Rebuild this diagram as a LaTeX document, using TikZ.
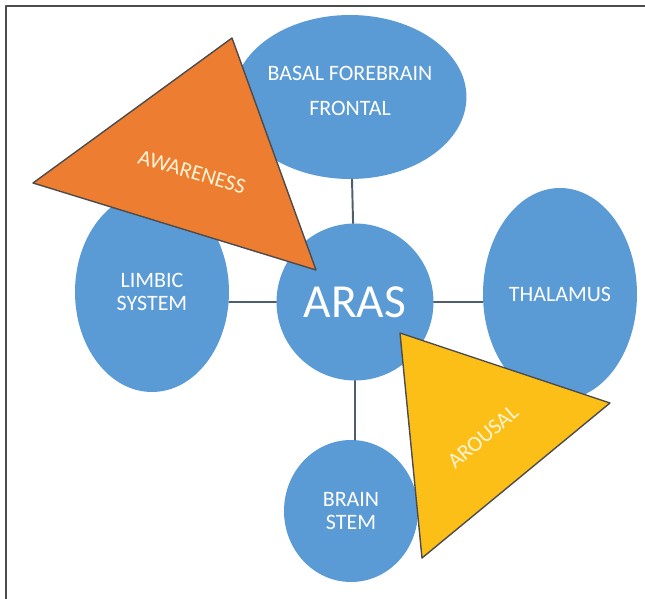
\documentclass[tikz,border=0pt]{standalone}
\usepackage{fontspec}
\setmainfont{Carlito}
\usetikzlibrary{shapes.geometric}

\definecolor{blobblue}{HTML}{5B9BD5}
\definecolor{awareorange}{HTML}{ED7D31}
\definecolor{arouseyellow}{HTML}{FBBF17}
\definecolor{linkgray}{HTML}{4E5E6E}
\definecolor{tritext}{HTML}{FFF4D6}

\begin{document}
\begin{tikzpicture}[line cap=round,line join=round,
    blob/.style={ellipse,fill=blobblue,inner sep=0pt,text=white,align=center,
      font=\fontsize{12.5}{13}\selectfont},
    link/.style={line width=1.1pt,draw=linkgray},
    tri/.style={line width=0.8pt,draw=black!70},
    trilabel/.style={text=tritext,font=\fontsize{12.5}{13}\selectfont}]
  \useasboundingbox (-7.10,6.00) rectangle (5.80,-5.98);
  \draw[line width=1.1pt,black!70,line cap=butt] (-6.98,-5.98) -- (-6.98,5.88) -- (5.80,5.88);
  % the five regions
  \node[blob,minimum width=4.60cm,minimum height=3.28cm] (basal) at (-0.10,4.06)
    {BASAL FOREBRAIN\\[7pt]FRONTAL\\[-6pt]\mbox{}};
  \node[blob,minimum width=3.08cm,minimum height=4.00cm] (limbic) at (-4.06,0.16)
    {LIMBIC\\SYSTEM};
  \node[blob,minimum width=3.08cm,minimum height=4.24cm] (thalamus) at (4.10,0.12)
    {THALAMUS};
  \node[blob,minimum width=2.68cm,minimum height=2.84cm] (stem) at (-0.08,-4.22)
    {BRAIN\\STEM};
  \node[blob,circle,minimum size=3.14cm,font=\fontsize{27}{30}\selectfont] (aras) at (0,-0.04)
    {ARAS};
  \draw[link] (aras) -- (basal);
  \draw[link] (aras.west) -- (aras.west -| limbic.east);
  \draw[link] (aras.east) -- (aras.east -| thalamus.west);
  \draw[link] (aras.south) -- (aras.south |- stem.north);
  % triangles
  \filldraw[tri,fill=awareorange] (-6.44,2.34) -- (-2.46,5.24) -- (-0.78,0.60) -- cycle;
  \node[trilabel,rotate=-16.5] (awareness) at (-3.26,2.56) {AWARENESS};
  \filldraw[tri,fill=arouseyellow] (0.90,-0.66) -- (5.10,-2.06) -- (1.34,-5.16) -- cycle;
  \node[trilabel,rotate=40.5] (arousal) at (2.56,-2.74) {AROUSAL};
\end{tikzpicture}
\end{document}
